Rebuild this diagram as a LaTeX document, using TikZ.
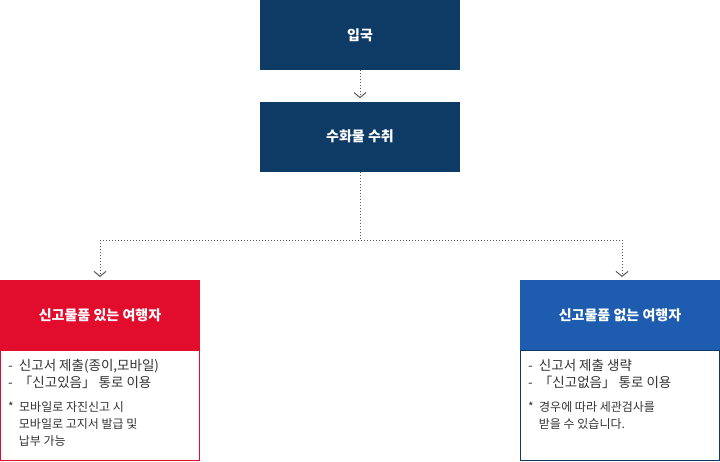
\documentclass[tikz,border=0pt]{standalone}
\usepackage{fontspec}
\setmainfont{Noto Sans CJK KR}
\usetikzlibrary{arrows.meta}
\definecolor{navy}{HTML}{0E3A66}
\definecolor{redc}{HTML}{E20C2D}
\definecolor{bluec}{HTML}{1D5CAE}
\definecolor{txt}{HTML}{333333}
\begin{document}
\begin{tikzpicture}[x=1pt,y=-1pt,
  hdr/.style={draw=none,minimum width=200pt,minimum height=70pt,text=white,font=\fontsize{14}{16}\selectfont\bfseries,inner sep=0},
  line/.style={draw=black!65,dotted,line width=1pt},
  conn/.style={line,-{Straight Barb[length=5pt,width=12pt,line width=1pt]}},
  body/.style={font=\fontsize{13.5}{17}\selectfont,text=txt,align=left,anchor=north west,inner sep=0}]
\useasboundingbox (0,0) rectangle (720,461);
\node[hdr,fill=navy] (a) at (360,35) {입국};
\node[hdr,fill=navy] (b) at (360,136.5) {수화물 수취};
\draw[conn] (a.south) -- ++(0,28);
\coordinate (j) at (360,240);
\coordinate (jl) at (100,240);
\coordinate (jr) at (622,240);
\draw[line] (b.south) -- (j);
\draw[line] (jl) -- (jr);
\draw[conn] (jl) -- (100,277);
\draw[conn] (jr) -- (622,277);
% left
\node[hdr,fill=redc] (l) at (100,315) {신고물품 있는 여행자};
\draw[redc,line width=0.9pt,fill=white] (0.5,350) rectangle (199.5,460.5);
\node[body] (lt) at (8,359) {-\ \ 신고서 제출(종이,모바일)\\-\ \ 「신고있음」 통로 이용};
\node[body,font=\fontsize{12}{17}\selectfont] (ln) at (8,401) {*\ \ 모바일로 자진신고 시\\\ \ \ \ 모바일로 고지서 발급 및\\\ \ \ \ 납부 가능};
% right
\node[hdr,fill=bluec] (r) at (620,315) {신고물품 없는 여행자};
\draw[navy,line width=0.9pt,fill=white] (520.5,350) rectangle (719.5,460.5);
\node[body] (rt) at (528,359) {-\ \ 신고서 제출 생략\\-\ \ 「신고없음」 통로 이용};
\node[body,font=\fontsize{12}{17}\selectfont] (rn) at (528,401) {*\ \ 경우에 따라 세관검사를\\\ \ \ \ 받을 수 있습니다.};
\end{tikzpicture}
\end{document}
